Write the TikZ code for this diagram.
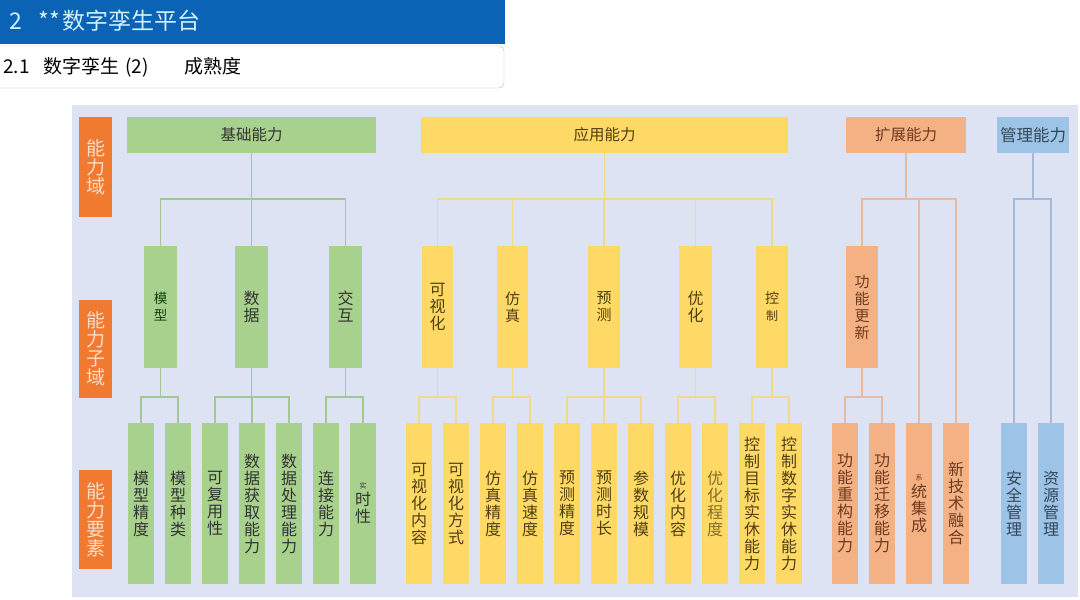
\documentclass[tikz,border=0pt]{standalone}
\usepackage{fontspec}
\setmainfont{Noto Sans CJK SC}
\definecolor{hblue}{HTML}{0B63B5}
\definecolor{htext}{HTML}{D2F1FF}
\definecolor{panel}{HTML}{DDE3F3}
\definecolor{lorange}{HTML}{F07A30}
\definecolor{ltext}{HTML}{FBDCC8}
\definecolor{gfill}{HTML}{A9D18E}
\definecolor{gline}{HTML}{A2C792}
\definecolor{gtext}{HTML}{333333}
\definecolor{yfill}{HTML}{FFD966}
\definecolor{yline}{HTML}{F1D985}
\definecolor{ytext}{HTML}{4F3F10}
\definecolor{ofill}{HTML}{F4B183}
\definecolor{oline}{HTML}{E6BBA2}
\definecolor{otext}{HTML}{6E3A20}
\definecolor{bfill}{HTML}{9DC3E6}
\definecolor{bline}{HTML}{A3BADB}
\definecolor{btext}{HTML}{34475A}
\begin{document}
\begin{tikzpicture}[x=1pt,y=-1pt,
  box/.style={rectangle, inner sep=0pt, outer sep=0pt, anchor=north west, align=center},
  elbox/.style={box, minimum width=26pt, minimum height=161pt, font=\fontsize{16}{17}\selectfont},
  subbox/.style={box, minimum width=32pt, minimum height=122pt, font=\fontsize{15}{17}\selectfont},
  topbox/.style={box, minimum height=36pt, font=\fontsize{15.5}{17}\selectfont},
  labbox/.style={box, fill=lorange, text=ltext, minimum width=33pt, font=\fontsize{19}{19}\selectfont},
  gb/.style={fill=gfill, text=gtext},
  yb/.style={fill=yfill, text=ytext},
  ob/.style={fill=ofill, text=otext},
  bb/.style={fill=bfill, text=btext},
  gl/.style={draw=gline, line width=1.4pt},
  yl/.style={draw=yline, line width=1.4pt},
  ol/.style={draw=oline, line width=1.4pt},
  bl/.style={draw=bline, line width=1.4pt}
]
\useasboundingbox (0,0) rectangle (1080,600);
\fill[white] (0,0) rectangle (1080,600);
% header
\node[box, fill=hblue, minimum width=505pt, minimum height=44pt] (hbar) at (0,0) {};
\node[anchor=west, text=htext, font=\fontsize{23}{23}\selectfont, inner sep=0pt] (htitle) at (9,21) {2\hspace{17pt}**\hspace{2pt}数字孪生平台};
\draw[draw=gray!55, fill=white, rounded corners=5pt] (-6,46) rectangle (504,88);
\node[anchor=west, text=black, font=\fontsize{19}{19}\selectfont, inner sep=0pt] (stitle) at (3,67) {2.1\hspace{14pt}数字孪生\hspace{6pt}(2)\hspace{36pt}成熟度};
% panel
\draw[fill=panel, draw=white, line width=1.2pt] (71,104) rectangle (1079,598);
% left labels
\node[labbox, minimum height=100pt] (lab1) at (79,117) {能\\力\\域};
\node[labbox, minimum height=98pt] (lab2) at (79,300) {能\\力\\子\\域};
\node[labbox, minimum height=99pt] (lab3) at (79,470) {能\\力\\要\\素};
\coordinate (busA) at (0,199);
\coordinate (busB) at (0,397);
% ---------- green ----------
\node[topbox, gb, minimum width=249pt] (G) at (127,117) {基础能力};
\node[subbox, gb, minimum width=33pt, font=\fontsize{13.5}{17}\selectfont, text=gtext!60!green!50!black] (gs1) at (144,246) {模\\型};
\node[subbox, gb, minimum width=33pt, font=\fontsize{16}{17}\selectfont] (gs2) at (235,246) {数\\据};
\node[subbox, gb, minimum width=33pt, font=\fontsize{16}{17}\selectfont] (gs3) at (329,246) {交\\互};
\node[elbox, gb] (e1) at (128,423) {模\\型\\精\\度};
\node[elbox, gb] (e2) at (165,423) {模\\型\\种\\类};
\node[elbox, gb] (e3) at (202,423) {可\\复\\用\\性};
\node[elbox, gb] (e4) at (239,423) {数\\据\\获\\取\\能\\力};
\node[elbox, gb] (e5) at (276,423) {数\\据\\处\\理\\能\\力};
\node[elbox, gb] (e6) at (313,423) {连\\接\\能\\力};
\node[elbox, gb] (e7) at (350,423) {{\fontsize{7}{12}\selectfont 实}\\时\\性};
\draw[gl] (G.south) -- (G.south |- busA);
\foreach \c in {gs1,gs2,gs3} \draw[gl] (\c.north) |- (G.south |- busA);
\draw[gl] (gs1.south) -- (gs1.south |- busB);
\foreach \c in {e1,e2} \draw[gl] (\c.north) |- (gs1.south |- busB);
\draw[gl] (gs2.south) -- (gs2.south |- busB);
\foreach \c in {e3,e4,e5} \draw[gl] (\c.north) |- (gs2.south |- busB);
\draw[gl] (gs3.south) -- (gs3.south |- busB);
\foreach \c in {e6,e7} \draw[gl] (\c.north) |- (gs3.south |- busB);
% ---------- yellow ----------
\node[topbox, yb, minimum width=367pt] (Y) at (421,117) {应用能力};
\node[subbox, yb, minimum width=31pt, font=\fontsize{16}{17}\selectfont] (ys1) at (422,246) {可\\视\\化};
\node[subbox, yb, minimum width=31pt] (ys2) at (497,246) {仿\\真};
\node[subbox, yb, minimum width=32pt] (ys3) at (588,246) {预\\测};
\node[subbox, yb, minimum width=33pt, font=\fontsize{16}{17}\selectfont] (ys4) at (679,246) {优\\化};
\node[subbox, yb, minimum width=32pt, font=\fontsize{14}{17}\selectfont] (ys5) at (756,246) {控\\{\fontsize{12}{17}\selectfont 制}};
\node[elbox, yb] (y1) at (406,423) {可\\视\\化\\内\\容};
\node[elbox, yb] (y2) at (443,423) {可\\视\\化\\方\\式};
\node[elbox, yb] (y3) at (480,423) {仿\\真\\精\\度};
\node[elbox, yb] (y4) at (517,423) {仿\\真\\速\\度};
\node[elbox, yb] (y5) at (554,423) {预\\测\\精\\度};
\node[elbox, yb] (y6) at (591,423) {预\\测\\时\\长};
\node[elbox, yb] (y7) at (628,423) {参\\数\\规\\模};
\node[elbox, yb] (y8) at (665,423) {优\\化\\内\\容};
\node[elbox, yb, text=ytext!70!yfill] (y9) at (702,423) {优\\化\\程\\度};
\node[elbox, yb] (y10) at (739,423) {控\\制\\目\\标\\实\\休\\能\\力};
\node[elbox, yb] (y11) at (776,423) {控\\制\\数\\字\\实\\休\\能\\力};
\draw[yl] (Y.south) -- (Y.south |- busA);
\foreach \c in {ys1,ys2,ys3,ys4,ys5} \draw[yl] (\c.north) |- (Y.south |- busA);
\draw[yl] (ys1.south) -- (ys1.south |- busB);
\foreach \c in {y1,y2} \draw[yl] (\c.north) |- (ys1.south |- busB);
\draw[yl] (ys2.south) -- (ys2.south |- busB);
\foreach \c in {y3,y4} \draw[yl] (\c.north) |- (ys2.south |- busB);
\draw[yl] (ys3.south) -- (ys3.south |- busB);
\foreach \c in {y5,y6,y7} \draw[yl] (\c.north) |- (ys3.south |- busB);
\draw[yl] (ys4.south) -- (ys4.south |- busB);
\foreach \c in {y8,y9} \draw[yl] (\c.north) |- (ys4.south |- busB);
\draw[yl] (ys5.south) -- (ys5.south |- busB);
\foreach \c in {y10,y11} \draw[yl] (\c.north) |- (ys5.south |- busB);
% ---------- orange ----------
\node[topbox, ob, minimum width=120pt] (O) at (846,117) {扩展能力};
\node[subbox, ob, minimum width=32pt] (os1) at (846,246) {功\\能\\更\\新};
\node[elbox, ob] (o1) at (832,423) {功\\能\\重\\构\\能\\力};
\node[elbox, ob] (o2) at (869,423) {功\\能\\迁\\移\\能\\力};
\node[elbox, ob] (o3) at (906,423) {{\fontsize{7}{12}\selectfont 系}\\统\\集\\成};
\node[elbox, ob] (o4) at (943,423) {新\\技\\术\\融\\合};
\draw[ol] (O.south) -- (O.south |- busA);
\foreach \c in {os1,o3,o4} \draw[ol] (\c.north) |- (O.south |- busA);
\draw[ol] (os1.south) -- (os1.south |- busB);
\foreach \c in {o1,o2} \draw[ol] (\c.north) |- (os1.south |- busB);
% ---------- blue ----------
\node[topbox, bb, minimum width=72pt, font=\fontsize{16.5}{17}\selectfont] (B) at (997,117) {管理能力};
\node[elbox, bb] (b1) at (1001,423) {安\\全\\管\\理};
\node[elbox, bb] (b2) at (1038,423) {资\\源\\管\\理};
\draw[bl] (B.south) -- (B.south |- busA);
\foreach \c in {b1,b2} \draw[bl] (\c.north) |- (B.south |- busA);
\end{tikzpicture}
\end{document}
